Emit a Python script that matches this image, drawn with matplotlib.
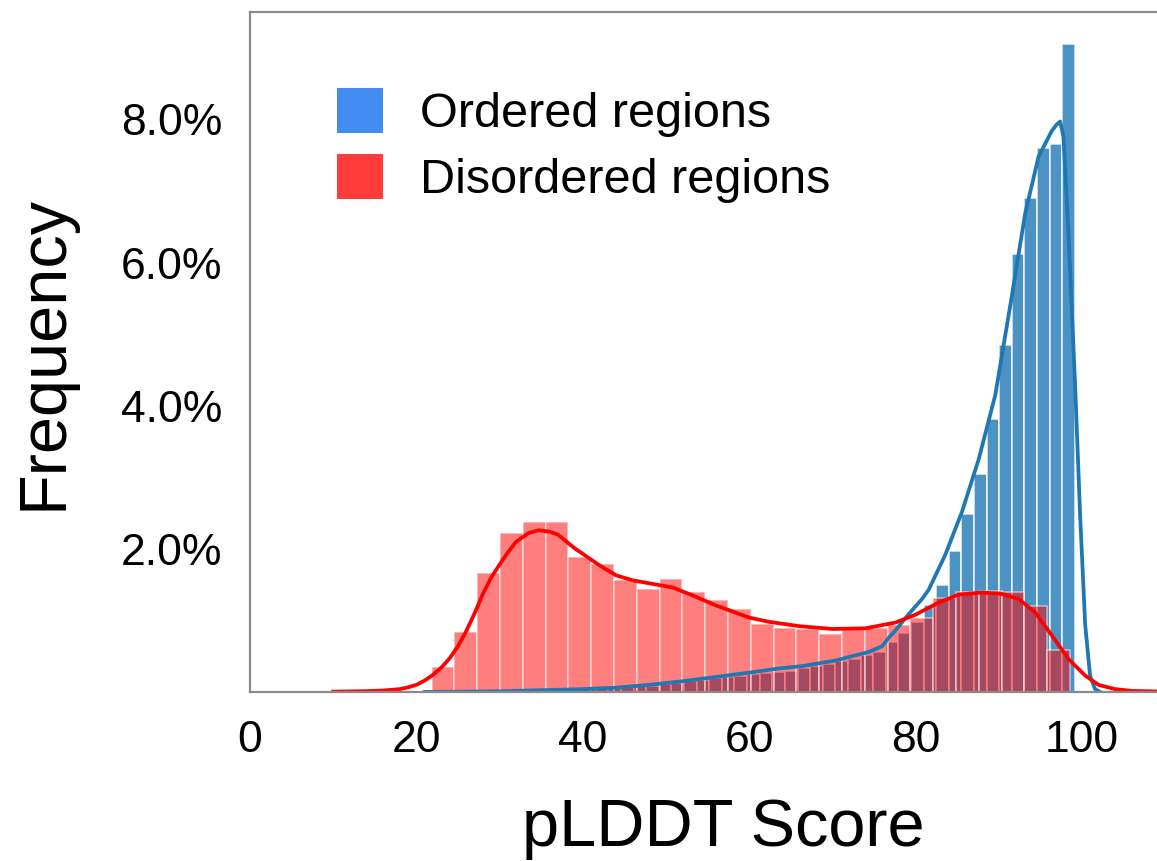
import numpy as np
import matplotlib.pyplot as plt
from matplotlib.patches import Patch
from matplotlib.ticker import FuncFormatter

plt.rcParams['font.family'] = ['Liberation Sans', 'DejaVu Sans']

# histogram bars, in % (density)
ordered_range = (23.4, 99.15)
ordered_freq = [0.01, 0.01, 0.01, 0.02, 0.02, 0.02, 0.03, 0.03, 0.03, 0.04,
                0.04, 0.05, 0.05, 0.06, 0.07, 0.08, 0.09, 0.11, 0.13, 0.15,
                0.17, 0.19, 0.21, 0.23, 0.25, 0.27, 0.28, 0.30, 0.33, 0.36,
                0.39, 0.43, 0.46, 0.51, 0.56, 0.70, 0.82, 0.98, 1.21, 1.50,
                1.97, 2.48, 3.05, 3.81, 4.85, 6.12, 6.90, 7.60, 7.66, 9.05]

disordered_range = (21.84, 98.57)
disordered_freq = [0.35, 0.84, 1.66, 2.22, 2.38, 2.38, 1.89, 1.79, 1.57, 1.44,
                   1.58, 1.40, 1.28, 1.16, 0.95, 0.90, 0.88, 0.81, 0.88, 0.90,
                   0.93, 1.04, 1.31, 1.40, 1.41, 1.39, 1.20, 0.58]

# kde curves
ordered_kde_x = [21, 30, 40, 44, 48, 52, 56, 60, 63.6, 66.3, 70.4, 74.4, 76,
                 76.8, 77.6, 79.2, 80.8, 81.6, 83.6, 85.6, 87.6, 89.6, 91.6,
                 93.2, 94.8, 96.4, 97.0, 97.4, 97.8, 98.4, 99.2, 99.8, 100.4,
                 101.0, 101.6, 102.2]
ordered_kde_y = [0.0, 0.01, 0.04, 0.06, 0.10, 0.15, 0.21, 0.27, 0.33, 0.36,
                 0.44, 0.56, 0.64, 0.76, 0.86, 1.09, 1.30, 1.43, 1.92, 2.52,
                 3.25, 4.15, 5.54, 6.69, 7.48, 7.84, 7.93, 7.97, 7.75, 6.39,
                 4.28, 2.46, 0.95, 0.22, 0.04, 0.0]

disordered_kde_x = [10, 12, 14, 16, 18, 19, 20, 21, 22, 23, 24, 25, 26, 27,
                    28, 29, 30, 31, 32, 33.5, 34.7, 36, 37, 39, 42, 44, 46,
                    48.4, 50.8, 53.2, 56, 60, 62.4, 66, 70, 74, 77.6, 80,
                    82.8, 85.2, 88, 90.4, 92.4, 94.4, 96.4, 98.4, 100.4, 102,
                    104, 106, 110]
disordered_kde_y = [0.005, 0.008, 0.012, 0.02, 0.04, 0.065, 0.10, 0.16, 0.24,
                    0.34, 0.47, 0.64, 0.85, 1.10, 1.37, 1.60, 1.78, 1.95,
                    2.10, 2.22, 2.26, 2.24, 2.20, 2.01, 1.77, 1.63, 1.56,
                    1.51, 1.46, 1.35, 1.21, 1.04, 0.98, 0.92, 0.88, 0.89,
                    0.97, 1.08, 1.25, 1.36, 1.39, 1.37, 1.30, 1.11, 0.79,
                    0.46, 0.23, 0.10, 0.04, 0.015, 0.005]

x_ticks = [0, 20, 40, 60, 80, 100]
y_ticks = [2, 4, 6, 8]

fig = plt.figure(figsize=(11.57, 8.61), dpi=100)
ax = fig.add_axes([0.2161, 0.1963, 0.7908, 0.7898])


def draw_hist(freq, rng, color, alpha):
    edges = np.linspace(rng[0], rng[1], len(freq) + 1)
    ax.bar(edges[:-1], freq, width=np.diff(edges), align='edge', color=color,
           alpha=alpha, edgecolor='white', linewidth=1.2)


draw_hist(ordered_freq, ordered_range, '#1f77b4', 0.8)
draw_hist(disordered_freq, disordered_range, 'red', 0.5)
ax.plot(ordered_kde_x, ordered_kde_y, color='#1f77b4', lw=2.7)
ax.plot(disordered_kde_x, disordered_kde_y, color='red', lw=2.7)

ax.set_xlim(0, 110)
ax.set_ylim(0, 9.5)
ax.set_xticks(x_ticks)
ax.set_yticks(y_ticks)
ax.yaxis.set_major_formatter(FuncFormatter(lambda v, _: f'{v:.1f}%'))
ax.tick_params(length=0, labelsize=32, pad=20)

for s in ['left', 'top', 'bottom']:
    ax.spines[s].set_color('#8a8a8a')
    ax.spines[s].set_linewidth(1.6)
ax.spines['right'].set_visible(False)

ax.set_ylabel('Frequency', fontsize=48)
ax.yaxis.set_label_coords(-0.191, 0.5)
ax.set_xlabel('pLDDT Score', fontsize=48, va='baseline')
ax.xaxis.set_label_coords(0.517, -0.226)

handles = [Patch(facecolor='#428BF0', label='Ordered regions'),
           Patch(facecolor='#FF3B3B', label='Disordered regions')]
ax.legend(handles=handles, loc='upper left', bbox_to_anchor=(0.095, 0.888),
          frameon=False, fontsize=35, handlelength=0.95, handleheight=1.03,
          handletextpad=0.76, labelspacing=0.36, borderpad=0, borderaxespad=0)

plt.savefig('out.png', dpi=100)
